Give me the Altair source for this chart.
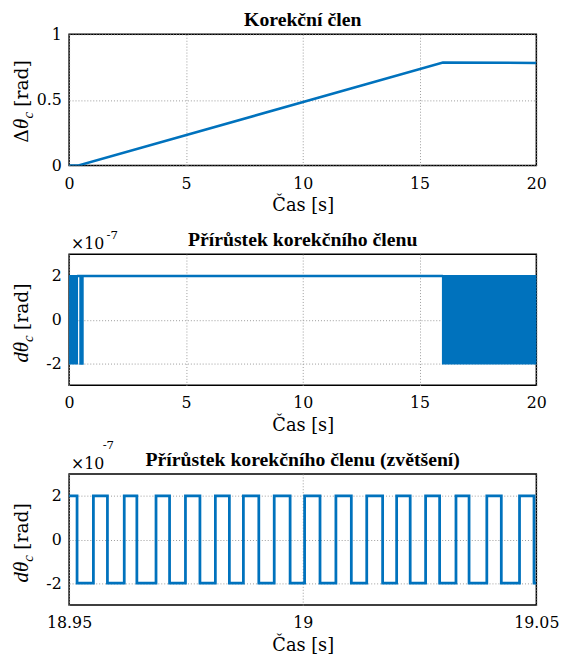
import altair as alt
import pandas as pd

BLUE = "#0072BD"
FONT_B = "Liberation Serif"      # bold titles
FONT_I = "Times New Roman"       # italic math symbols
FONT_R = "DejaVu Serif"          # regular texts

# ---------- Panel 1: correction term [rad] ----------
t1 = [0.0, 0.4, 16.0, 20.0]
v1 = [0.0, 0.0, 0.785, 0.782]

# ---------- Panel 2: increment (x 1e-7 rad) ----------
t2 = [0.34, 0.49, 0.49, 0.57, 0.57, 16.0]
v2 = [2, 2, -2, -2, 2, 2]
# intervals where the switching is too dense to resolve (solid band)
band_start = [0.0, 16.0]
band_end = [0.34, 20.0]
band_low = [-2, -2]
band_high = [2, 2]

# ---------- Panel 3: zoomed switching (x 1e-7 rad) ----------
t3 = [18.95, 18.9517, 18.9552, 18.9582, 18.9618, 18.9645, 18.9686, 18.9715,
      18.9749, 18.9780, 18.9813, 18.9843, 18.9873, 18.9906, 18.9939, 18.9973,
      19.0004, 19.0037, 19.0071, 19.0104, 19.0137, 19.0171, 19.0201, 19.0230,
      19.0263, 19.0293, 19.0328, 19.0356, 19.0394, 19.0425, 19.0464, 19.0495,
      19.05]
v3 = [2, -2, 2, -2, 2, -2, 2, -2,
      2, -2, 2, -2, 2, -2, 2, -2,
      2, -2, 2, -2, 2, -2, 2, -2,
      2, -2, 2, -2, 2, -2, 2, -2,
      -2]

x_ticks_full = [0, 5, 10, 15, 20]
x_ticks_zoom = [18.95, 19, 19.05]
y_ticks_1 = [0, 0.5, 1]
y_ticks_pm = [-2, 0, 2]

titles = ["Korekční člen", "Přírůstek korekčního členu",
          "Přírůstek korekčního členu (zvětšení)"]
x_title = "Čas [s]"

W, H = 474, 133
one = pd.DataFrame({"k": [0]})
LBL = "'' + datum.value"

AX = dict(labelFont=FONT_R, labelFontSize=16, labelColor="black",
          labelFlush=False, labelOverlap=False, labelFontWeight="normal",
          titleFont=FONT_R, titleFontSize=18, titleFontWeight="normal", titleColor="black",
          titlePadding=6, domain=False, ticks=False,
          grid=True, gridColor="#9a9a9a", gridDash=[1, 2], gridWidth=1)


def xaxis(values):
    return alt.Axis(values=values, labelExpr=LBL, title=x_title, labelPadding=10, **AX)


def yaxis(values):
    return alt.Axis(values=values, labelExpr=LBL, title=None, labelPadding=8, **AX)


def title_mark(text):
    return alt.Chart(one).mark_text(
        fontSize=20, fontWeight="bold", font=FONT_B, color="black",
        align="center", baseline="alphabetic",
    ).encode(x=alt.value(W / 2), y=alt.value(-8), text=alt.value(text))


def ylabel(first_italic, first_plain):
    """Rotated y-label 'Δθ_c [rad]' / 'dθ_c [rad]' assembled from pieces."""
    base = dict(angle=270, align="left", baseline="alphabetic", color="black",
                fontWeight="normal")
    layers = []
    pos = 110
    if first_plain:
        layers.append(alt.Chart(one).mark_text(fontSize=19, font=FONT_R, **base).encode(
            x=alt.value(-42), y=alt.value(pos), text=alt.value(first_plain)))
        pos -= 14
    layers.append(alt.Chart(one).mark_text(fontSize=21, font=FONT_I, fontStyle="italic",
                                           **base).encode(
        x=alt.value(-42), y=alt.value(pos), text=alt.value(first_italic)))
    pos -= 10.5 * len(first_italic)
    layers.append(alt.Chart(one).mark_text(fontSize=15, font=FONT_I, fontStyle="italic",
                                           **base).encode(
        x=alt.value(-37), y=alt.value(pos), text=alt.value("c")))
    pos -= 12
    layers.append(alt.Chart(one).mark_text(fontSize=19, font=FONT_R, **base).encode(
        x=alt.value(-42), y=alt.value(pos), text=alt.value("[rad]")))
    return layers


def exponent(dy_base, dx_sup, dy_sup):
    base = dict(align="left", baseline="alphabetic", font=FONT_R, color="black",
                fontWeight="normal")
    return [
        alt.Chart(one).mark_text(fontSize=16, **base).encode(
            x=alt.value(2), y=alt.value(dy_base), text=alt.value("×10")),
        alt.Chart(one).mark_text(fontSize=12, **base).encode(
            x=alt.value(dx_sup), y=alt.value(dy_sup), text=alt.value("-7")),
    ]


# Panel 1
d1 = pd.DataFrame({"t": t1, "v": v1})
p1_line = alt.Chart(d1).mark_line(color=BLUE, strokeWidth=2.6, clip=True).encode(
    x=alt.X("t:Q", scale=alt.Scale(domain=[0, 20], nice=False), axis=xaxis(x_ticks_full)),
    y=alt.Y("v:Q", scale=alt.Scale(domain=[0, 1], nice=False), axis=yaxis(y_ticks_1)),
)
p1 = alt.layer(p1_line, title_mark(titles[0]), *ylabel("θ", "Δ")).properties(
    width=W, height=H)

# Panel 2
d2 = pd.DataFrame({"t": t2, "v": v2})
db = pd.DataFrame({"s": band_start, "e": band_end, "lo": band_low, "hi": band_high})
xs2 = alt.Scale(domain=[0, 20], nice=False)
ys2 = alt.Scale(domain=[-3, 3], nice=False)
p2_band = alt.Chart(db).mark_rect(color=BLUE, stroke=BLUE, strokeWidth=2, clip=True).encode(
    x=alt.X("s:Q", scale=xs2, axis=xaxis(x_ticks_full)),
    x2="e:Q",
    y=alt.Y("lo:Q", scale=ys2, axis=yaxis(y_ticks_pm)),
    y2="hi:Q",
)
p2_line = alt.Chart(d2).mark_line(color=BLUE, strokeWidth=2.6, clip=True).encode(
    x=alt.X("t:Q", scale=xs2),
    y=alt.Y("v:Q", scale=ys2),
)
p2 = alt.layer(p2_band, p2_line, title_mark(titles[1]), *ylabel("dθ", None),
               *exponent(-5, 38, -15)).properties(width=W, height=H)

# Panel 3
d3 = pd.DataFrame({"t": t3, "v": v3})
p3_line = alt.Chart(d3).mark_line(color=BLUE, strokeWidth=2.8, interpolate="step-after",
                                  clip=True).encode(
    x=alt.X("t:Q", scale=alt.Scale(domain=[18.95, 19.05], nice=False),
            axis=xaxis(x_ticks_zoom)),
    y=alt.Y("v:Q", scale=alt.Scale(domain=[-3, 3], nice=False), axis=yaxis(y_ticks_pm)),
)
p3 = alt.layer(p3_line, title_mark(titles[2]), *ylabel("dθ", None),
               *exponent(-5, 34, -25)).properties(width=W, height=H)

chart = alt.vconcat(p1, p2, p3, spacing=90, bounds="flush").properties(
    padding={"left": 2, "top": -3, "right": 0, "bottom": 0},
).configure_view(
    stroke="black", strokeWidth=1.5,
)

chart.save("out.html", embed_options={"renderer": "svg", "actions": False})
